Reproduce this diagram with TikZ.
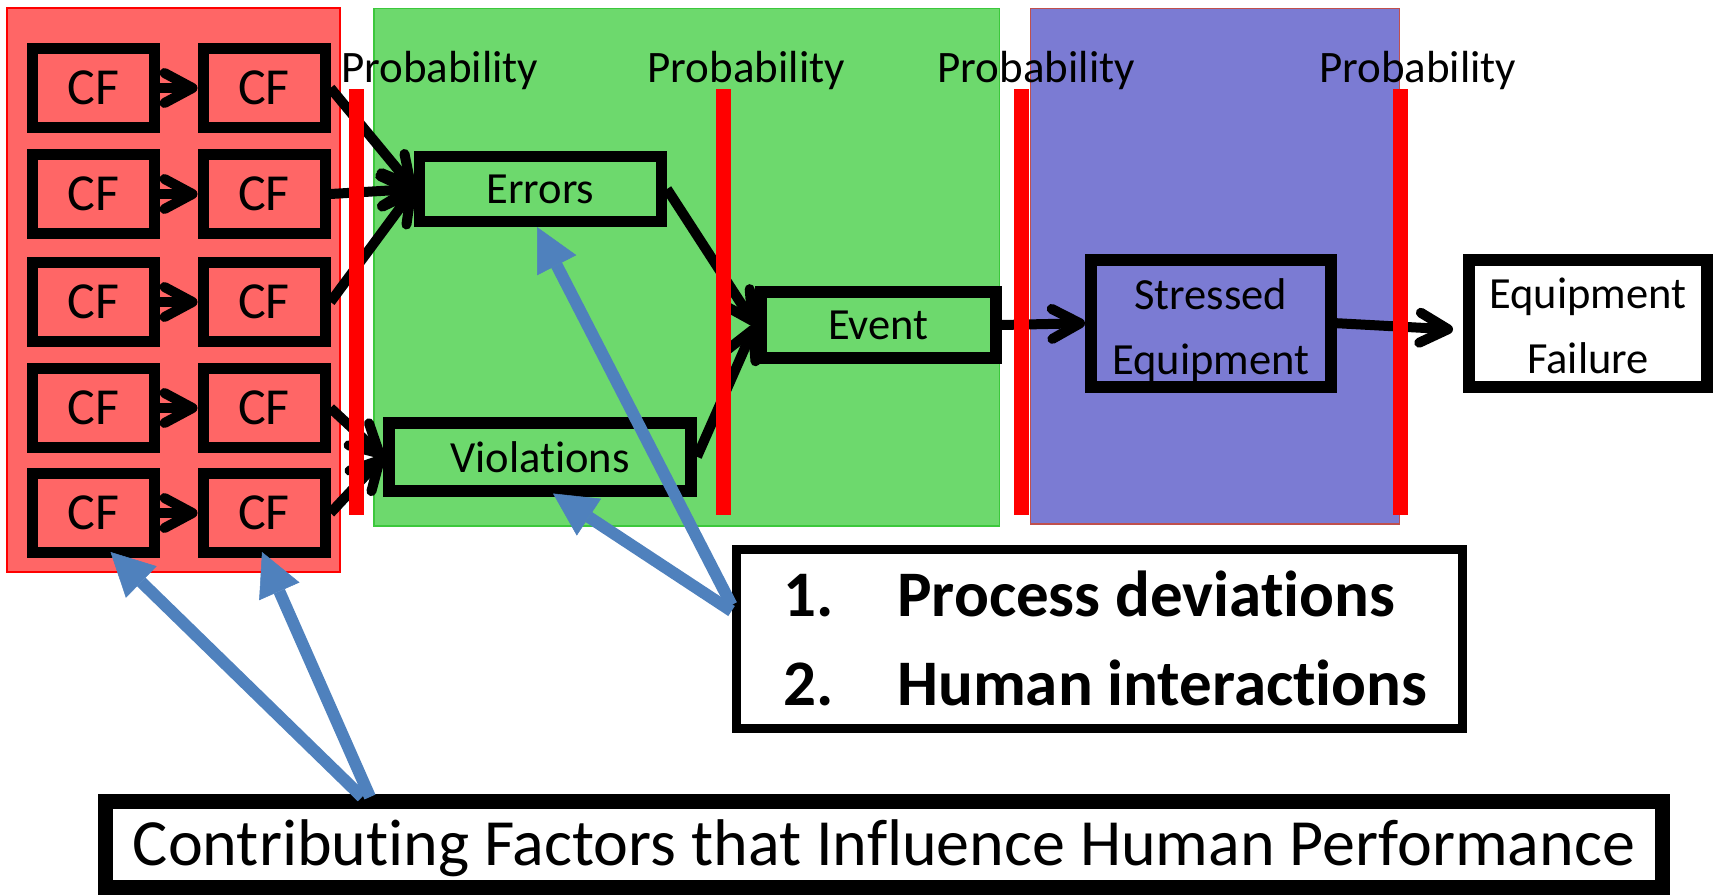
\documentclass[tikz,border=0pt]{standalone}
\usepackage{fontspec}
\setmainfont{Carlito}[Ligatures={NoCommon,NoRare,NoContextual}]
\usetikzlibrary{arrows.meta}
\definecolor{cfred}{RGB}{255,102,102}
\definecolor{grn}{RGB}{109,217,109}
\definecolor{grnline}{RGB}{60,200,60}
\definecolor{blu}{RGB}{123,123,211}
\definecolor{bluline}{RGB}{192,80,77}
\definecolor{arrblue}{RGB}{79,129,189}
\newcommand\lblfont{\fontsize{44.5}{65}\selectfont}
\begin{document}
\begin{tikzpicture}[x=1pt,y=-1pt,
  cfbox/.style={draw=black, fill=cfred, line width=11pt, minimum width=122pt,
    minimum height=79pt, inner sep=0pt, font=\fontsize{52}{60}\selectfont},
  box/.style={draw=black, line width=12pt, inner sep=0pt, font=\lblfont, align=center},
  boxlabel/.style={font=\lblfont, align=center, inner sep=0pt},
  conn/.style={line width=10pt, -{Straight Barb[length=28pt,width=30pt,round]}},
  bluearrow/.style={draw=arrblue, line width=12pt,
    -{Triangle[length=43pt,width=44pt,line width=0.5pt]}},
  probbar/.style={fill=red, draw=none},
  problabel/.style={anchor=base west, font=\fontsize{45}{52}\selectfont, inner sep=0pt},
  listtext/.style={anchor=base west, font=\fontsize{65}{78}\selectfont\bfseries, inner sep=0pt}
]
\useasboundingbox (0,0) rectangle (1713,894);

% regions
\filldraw[fill=cfred, draw=red, line width=1.5pt] (7,8) rectangle (340,572);
\filldraw[fill=grn, draw=grnline, line width=1.5pt] (374,8.5) rectangle (999.5,526);
\filldraw[fill=blu, draw=bluline, line width=1.5pt] (1030.5,8.5) rectangle (1399.3,524);

% contributing factor boxes
\foreach \r/\y in {1/88,2/194,3/302,4/408,5/513}{
  \node[cfbox] (cf\r1) at (93.5,\y) {CF};
  \node[cfbox] (cf\r2) at (264,\y) {CF};
}

% main boxes
\node[box, fill=grn, line width=11pt, minimum width=242pt, minimum height=65pt] (err) at (540.5,189) {Errors};
\node[box, fill=grn, minimum width=302pt, minimum height=67.5pt] (viol) at (540,456.75) {Violations};
\node[box, fill=grn, minimum width=234.5pt, minimum height=66pt] (ev) at (878.3,325) {Event};
\node[box, fill=blu, minimum width=239.7pt, minimum height=127.2pt,
  label={[boxlabel, yshift=-6.5pt]center:Stressed\\Equipment}] (se) at (1210.9,323.2) {};
\node[box, fill=white, minimum width=238pt, minimum height=127pt,
  label={[boxlabel, yshift=-2pt]center:Equipment\\Failure}] (ef) at (1588,323.5) {};
\node[box, fill=white, line width=9pt, minimum width=726.5pt, minimum height=179pt] (proc) at (1099.3,639) {};
\node[box, fill=white, line width=15pt, minimum width=1557pt, minimum height=85.5pt,
  font=\fontsize{66}{76}\selectfont, text height=48pt, text depth=6.5pt] (bot) at (884,844.25)
  {Contributing Factors that Influence Human Performance};

% list in the process box
\node[listtext] (n1) at (783,616.7) {1.};
\node[listtext] (t1) at (897,616.7) {Process deviations};
\node[listtext] (n2) at (783,705) {2.};
\node[listtext] (t2) at (897,705) {Human interactions};

% connectors
\foreach \r in {1,...,5}{
  \draw[conn] (cf\r1.east) -- (cf\r2.west);
}
\foreach \r in {1,2,3}{
  \draw[conn] (cf\r2.east) -- (err.west);
}
\foreach \r in {4,5}{
  \draw[conn] (cf\r2.east) -- (viol.west);
}
\draw[conn] (err.east) -- (ev.west);
\draw[conn] (viol.east) -- (ev.west);
\draw[conn] (ev.east) -- (se.west);
\draw[conn] (se.east) -- ([xshift=-10pt,yshift=-6pt]ef.west);

% probability bars
\fill[probbar] (349,89) rectangle (364,515);
\fill[probbar] (716,89) rectangle (731,515);
\fill[probbar] (1014,89) rectangle (1029,515);
\fill[probbar] (1393,89) rectangle (1408,515);

% probability labels
\node[problabel] (p1) at (341,82) {Probability};
\node[problabel] (p2) at (647.5,82) {Probability};
\node[problabel] (p3) at (937.5,82) {Probability};
\node[problabel] (p4) at (1319,82) {Probability};

% blue pointer arrows
\draw[bluearrow] ([yshift=34pt]proc.west) -- ([xshift=-3.5pt]err.south);
\draw[bluearrow] ([yshift=28pt]proc.west) -- ([xshift=13pt,yshift=3pt]viol.south);
\draw[bluearrow] ([xshift=-522pt,yshift=-3pt]bot.north) -- ([xshift=17pt,yshift=6pt]cf51.south);
\draw[bluearrow] ([xshift=-514pt,yshift=-3pt]bot.north) -- ([xshift=-2pt,yshift=6pt]cf52.south);
\end{tikzpicture}
\end{document}
